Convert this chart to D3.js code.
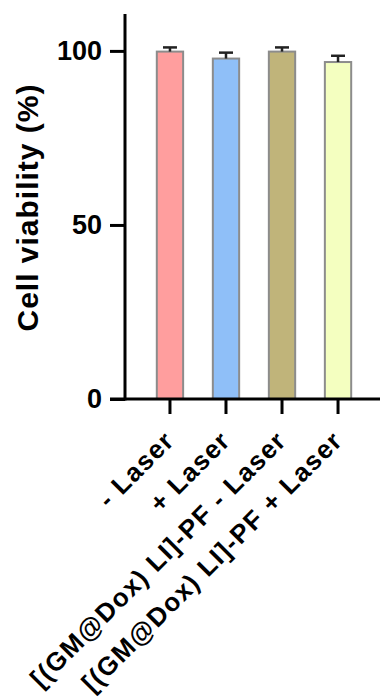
<!DOCTYPE html>
<html>
<head>
<meta charset="utf-8">
<script src="https://cdn.jsdelivr.net/npm/d3@7"></script>
<style>
  body { margin: 0; background: #fff; }
  svg text { font-family: Arial, "Liberation Sans", sans-serif; font-weight: bold; }
</style>
</head>
<body>
<svg id="chart" width="380" height="700"></svg>
<script>
// data
const groups = ['- Laser', '+ Laser', '[(GM@Dox) LI]-PF - Laser', '[(GM@Dox) LI]-PF + Laser'];
const viability = [99.8, 97.8, 99.8, 96.8];
const errors = [1.2, 1.7, 1.2, 1.8];
const barColors = ['#ff9e9e', '#8fbff8', '#c0b47a', '#f4ffc0'];
const yTicks = [0, 50, 100];

const svg = d3.select('#chart');
const plotLeft = 125, plotRight = 380, plotTop = 14, plotBottom = 399;

const y = d3.scaleLinear().domain([0, 110.6]).range([plotBottom, plotTop]);
const x = d3.scaleBand().domain(groups).range([140, 368]).paddingInner(0.53).paddingOuter(0.3);

// bars
svg.append('g').selectAll('rect')
  .data(groups)
  .enter().append('rect')
  .attr('x', d => x(d))
  .attr('width', x.bandwidth())
  .attr('y', (d, i) => y(viability[i]))
  .attr('height', (d, i) => plotBottom - y(viability[i]))
  .attr('fill', (d, i) => barColors[i])
  .attr('stroke', '#8c8c8c')
  .attr('stroke-width', 2);

// error bars (upper only)
const err = svg.append('g').attr('stroke', '#222').attr('stroke-width', 2.5);
groups.forEach((g, i) => {
  const cx = x(g) + x.bandwidth() / 2;
  err.append('line').attr('x1', cx).attr('x2', cx)
    .attr('y1', y(viability[i])).attr('y2', y(viability[i] + errors[i]));
  err.append('line').attr('x1', cx - 7).attr('x2', cx + 7)
    .attr('y1', y(viability[i] + errors[i])).attr('y2', y(viability[i] + errors[i]));
});

// y axis
const yAxis = svg.append('g')
  .attr('transform', 'translate(' + plotLeft + ',0)')
  .call(d3.axisLeft(y).tickValues(yTicks).tickSize(15).tickPadding(8).tickSizeOuter(0));
yAxis.select('.domain').attr('stroke-width', 3).attr('d', 'M0,' + plotTop + 'V' + (plotBottom + 1.5));
yAxis.selectAll('.tick line').attr('stroke-width', 3);
yAxis.selectAll('.tick text').attr('font-size', 27).attr('fill', '#000');

// x axis
const xAxis = svg.append('g')
  .attr('transform', 'translate(0,' + plotBottom + ')')
  .call(d3.axisBottom(x).tickSize(15).tickSizeOuter(0).tickFormat(''));
xAxis.select('.domain').attr('stroke-width', 3).attr('d', 'M' + (plotLeft - 15) + ',0H' + plotRight);
xAxis.selectAll('.tick line').attr('stroke-width', 3);

// rotated category labels
svg.append('g').selectAll('text')
  .data(groups)
  .enter().append('text')
  .attr('transform', d => 'translate(' + (x(d) + x.bandwidth() / 2 + 6) + ',' + (plotBottom + 43) + ') rotate(-45)')
  .attr('text-anchor', 'end')
  .attr('font-size', 26)
  .attr('letter-spacing', 1.4)
  .attr('fill', '#000')
  .text(d => d);

// y axis title
svg.append('text')
  .attr('transform', 'translate(38,' + ((87 + 328) / 2) + ') rotate(-90)')
  .attr('text-anchor', 'middle')
  .attr('font-size', 30)
  .attr('letter-spacing', 1)
  .attr('fill', '#000')
  .text('Cell viability (%)');
</script>
</body>
</html>
